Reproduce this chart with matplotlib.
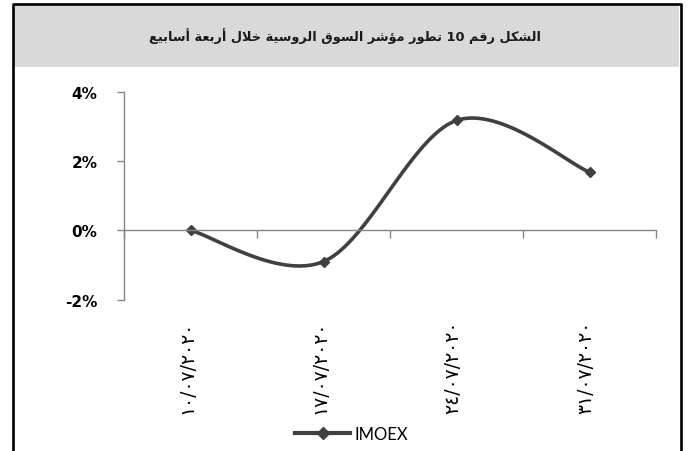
import numpy as np
import matplotlib
matplotlib.use('Agg')
import matplotlib.pyplot as plt
from matplotlib.lines import Line2D
from matplotlib.patches import Rectangle
import matplotlib.transforms as mtransforms

# data
dates = ['١٠/٠٧/٢٠٢٠', '١٧/٠٧/٢٠٢٠', '٢٤/٠٧/٢٠٢٠', '٣١/٠٧/٢٠٢٠']
imoex = [0.0, -0.90, 3.17, 1.68]   # percent
series_name = 'IMOEX'
title = 'الشكل رقم 10 تطور مؤشر السوق الروسية خلال أربعة أسابيع'
yticks = [-2, 0, 2, 4]

# small arabic shaper (matplotlib has no shaping / bidi)
FORMS = {  # isolated, final, initial, medial
    'ا': (0xFE8D, 0xFE8E, None, None),
    'أ': (0xFE83, 0xFE84, None, None),
    'ؤ': (0xFE85, 0xFE86, None, None),
    'ة': (0xFE93, 0xFE94, None, None),
    'ر': (0xFEAD, 0xFEAE, None, None),
    'و': (0xFEED, 0xFEEE, None, None),
    'ب': (0xFE8F, 0xFE90, 0xFE91, 0xFE92),
    'ت': (0xFE95, 0xFE96, 0xFE97, 0xFE98),
    'خ': (0xFEA5, 0xFEA6, 0xFEA7, 0xFEA8),
    'س': (0xFEB1, 0xFEB2, 0xFEB3, 0xFEB4),
    'ش': (0xFEB5, 0xFEB6, 0xFEB7, 0xFEB8),
    'ط': (0xFEC1, 0xFEC2, 0xFEC3, 0xFEC4),
    'ع': (0xFEC9, 0xFECA, 0xFECB, 0xFECC),
    'ق': (0xFED5, 0xFED6, 0xFED7, 0xFED8),
    'ك': (0xFED9, 0xFEDA, 0xFEDB, 0xFEDC),
    'ل': (0xFEDD, 0xFEDE, 0xFEDF, 0xFEE0),
    'م': (0xFEE1, 0xFEE2, 0xFEE3, 0xFEE4),
    'ي': (0xFEF1, 0xFEF2, 0xFEF3, 0xFEF4),
    'لا': (0xFEFB, 0xFEFC, None, None),
}


def shape_word(w):
    # lam-alef ligature
    chars = []
    i = 0
    while i < len(w):
        if w[i] == 'ل' and i + 1 < len(w) and w[i + 1] == 'ا':
            chars.append('لا')
            i += 2
        else:
            chars.append(w[i])
            i += 1
    out = []
    for k, c in enumerate(chars):
        if c not in FORMS:
            out.append(c)
            continue
        prev = chars[k - 1] if k > 0 else None
        nxt = chars[k + 1] if k + 1 < len(chars) else None
        join_prev = prev in FORMS and FORMS[prev][2] is not None
        join_next = nxt in FORMS and FORMS[c][2] is not None
        iso, fin, ini, med = FORMS[c]
        if join_prev and join_next:
            code = med
        elif join_prev:
            code = fin
        elif join_next:
            code = ini
        else:
            code = iso
        out.append(chr(code))
    return ''.join(out[::-1])


def rtl(s):
    words = []
    for w in s.split(' '):
        if w.isdigit():
            words.append(w)
        else:
            words.append(shape_word(w))
    return ' '.join(words[::-1])


# smooth line like excel (catmull-rom as bezier)
def smooth(xs, ys, n=40):
    P = np.column_stack([xs, ys]).astype(float)
    P = np.vstack([P[0], P, P[-1]])
    pts = []
    for i in range(1, len(P) - 2):
        p0, p1, p2, p3 = P[i - 1], P[i], P[i + 1], P[i + 2]
        b1 = p1 + (p2 - p0) / 6
        b2 = p2 - (p3 - p1) / 6
        t = np.linspace(0, 1, n)[:, None]
        seg = ((1 - t) ** 3) * p1 + 3 * ((1 - t) ** 2) * t * b1 + 3 * (1 - t) * t ** 2 * b2 + t ** 3 * p2
        pts.append(seg)
    pts = np.vstack(pts)
    return pts[:, 0], pts[:, 1]


W, H = 689, 452
fig = plt.figure(figsize=(W / 100, H / 100), dpi=100)

def fx(px):
    return px / W

def fy(py):
    return 1 - py / H

# header band and frame
fig.patches.append(Rectangle((fx(14), fy(68)), fx(679) - fx(14), fy(6) - fy(68),
                             transform=fig.transFigure, facecolor='#d9d9d9', edgecolor='none'))
fig.lines.append(Line2D([fx(13), fx(13), fx(680.5), fx(680.5)], [fy(460), fy(5), fy(5), fy(460)],
                        transform=fig.transFigure, color='black', lw=1.9))
fig.text(fx(345), fy(36), rtl(title), ha='center', va='center', fontsize=9.3,
         fontweight='bold', color='#1a1a1a', family='DejaVu Sans')

ax = fig.add_axes([fx(124), fy(300.7), fx(656) - fx(124), fy(92.7) - fy(300.7)])
x = np.arange(len(imoex))
sx, sy = smooth(x, imoex)
ax.plot(sx, sy, color='#404040', lw=2.6, solid_capstyle='round')
ax.plot(x, imoex, linestyle='none', marker='D', ms=5.5, color='#404040')

ax.set_xlim(-0.5, len(imoex) - 0.5)
ax.set_ylim(-2, 4)
ax.set_yticks(yticks)
ax.set_yticklabels([f'{v}%' for v in yticks], fontsize=11, fontweight='bold', family='DejaVu Sans')
ax.set_xticks(np.arange(len(imoex) + 1) - 0.5)
ax.set_xticklabels([])

for side in ['top', 'right']:
    ax.spines[side].set_visible(False)
ax.spines['bottom'].set_position(('data', 0))
for side in ['left', 'bottom']:
    ax.spines[side].set_color('#868686')
    ax.spines[side].set_linewidth(1.0)
ax.tick_params(axis='y', direction='out', length=5, width=1, color='#868686', pad=14)
ax.tick_params(axis='x', direction='out', length=6, width=1, color='#868686')
ax.patch.set_visible(False)

trans = mtransforms.blended_transform_factory(ax.transData, fig.transFigure)
for xi, lab in zip(x, dates):
    ax.text(xi - 0.03, fy(321), lab, rotation=90, ha='center', va='top', fontsize=13.5,
            transform=trans, family='DejaVu Sans', color='black')

handle = Line2D([], [], color='#404040', lw=3, marker='D', ms=6)
fig.legend([handle], [series_name], loc='center left', bbox_to_anchor=(fx(287), fy(435)),
           frameon=False, handlelength=3.3, handletextpad=0.25,
           prop={'family': 'Lato', 'size': 12}, borderpad=0)

fig.savefig('out.png', dpi=100, facecolor='white')
